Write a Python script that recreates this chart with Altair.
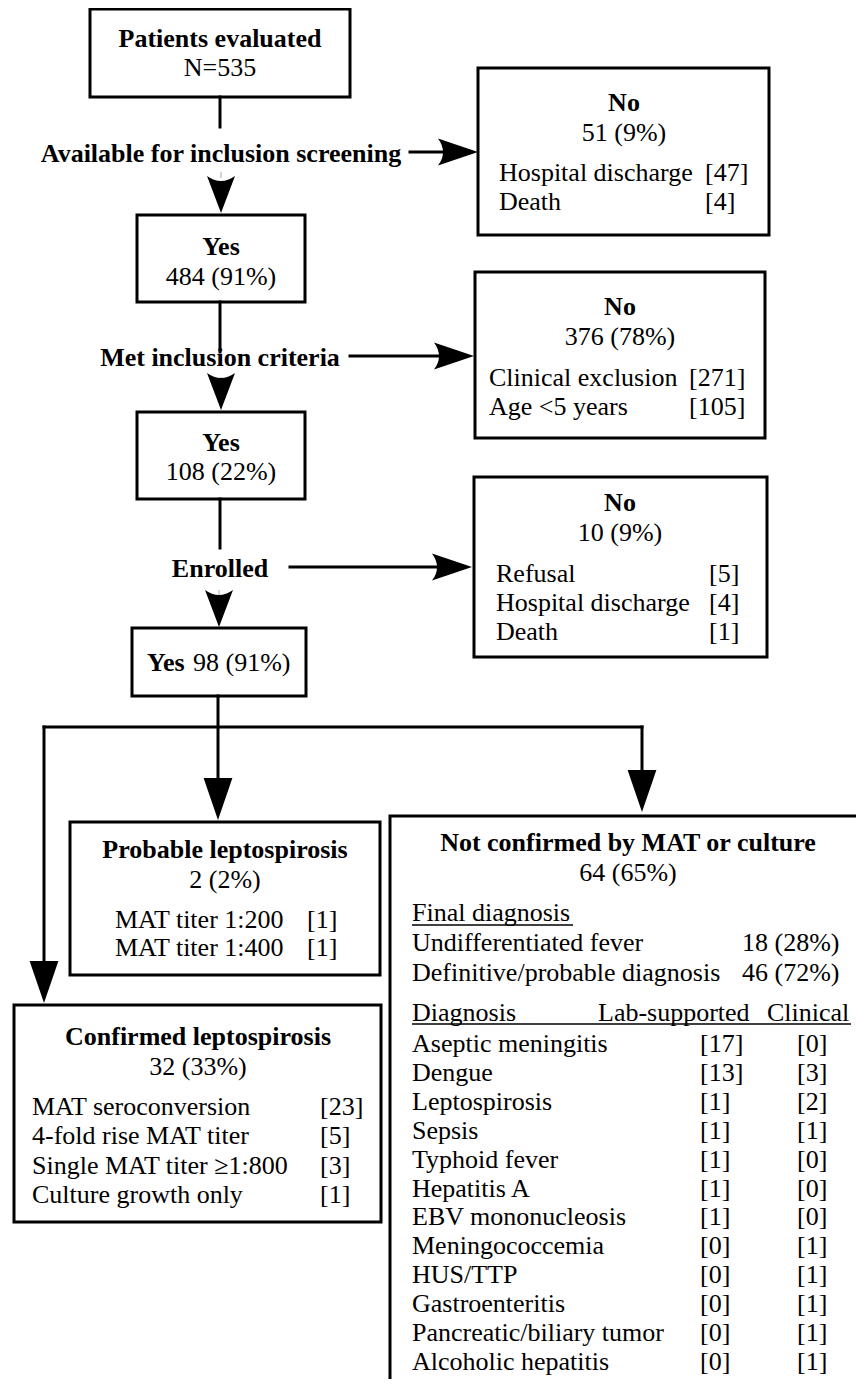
import altair as alt
import pandas as pd

FONT = "Liberation Serif, Times New Roman, Times, DejaVu Serif, serif"
FS = 26

# ---------------- content ----------------
decision_labels = ["Available for inclusion screening", "Met inclusion criteria", "Enrolled"]
box_titles = ["Patients evaluated", "Yes", "No", "Yes", "No", "No",
              "Probable leptospirosis", "Confirmed leptospirosis",
              "Not confirmed by MAT or culture"]
box_counts = ["N=535", "484 (91%)", "51 (9%)", "108 (22%)", "376 (78%)", "10 (9%)",
              "2 (2%)", "32 (33%)", "64 (65%)"]
enrolled_word = "Yes"
enrolled_count = "98 (91%)"

no1_items = ["Hospital discharge", "Death"]
no1_n = [47, 4]
no2_items = ["Clinical exclusion", "Age <5 years"]
no2_n = [271, 105]
no3_items = ["Refusal", "Hospital discharge", "Death"]
no3_n = [5, 4, 1]
probable_items = ["MAT titer 1:200", "MAT titer 1:400"]
probable_n = [1, 1]
confirmed_items = ["MAT seroconversion", "4-fold rise MAT titer",
                   "Single MAT titer \u22651:800", "Culture growth only"]
confirmed_n = [23, 5, 3, 1]
final_header = "Final diagnosis"
final_items = ["Undifferentiated fever", "Definitive/probable diagnosis"]
final_n = ["18 (28%)", "46 (72%)"]
dx_header = ["Diagnosis", "Lab-supported", "Clinical"]
dx_names = ["Aseptic meningitis", "Dengue", "Leptospirosis", "Sepsis", "Typhoid fever",
            "Hepatitis A", "EBV mononucleosis", "Meningococcemia", "HUS/TTP",
            "Gastroenteritis", "Pancreatic/biliary tumor", "Alcoholic hepatitis"]
dx_lab = [17, 13, 1, 1, 1, 1, 1, 0, 0, 0, 0, 0]
dx_clin = [0, 3, 2, 1, 0, 0, 0, 1, 1, 1, 1, 1]

# ---------------- layout (page pixel coordinates) ----------------
box_x1 = [90, 137, 478, 137, 475, 474, 70, 14, 390]
box_x2 = [350, 305, 769, 305, 765, 767, 380, 381, 900]
box_y1 = [9, 215, 68, 412, 272, 477, 822, 1005, 816]
box_y2 = [97, 302, 235, 499, 438, 657, 975, 1222, 1420]
title_x = [220, 221, 624, 221, 620, 620, 225, 198, 628]
title_y = [39, 247, 103, 443, 307, 503, 850, 1037, 843]
count_y = [68, 277, 133, 472, 337, 533, 880, 1067, 873]
dec_x = [221, 220, 220]
dec_y = [154, 358, 569]
g_box = (132, 306, 628, 696)
ROW = 29.3

boxes = pd.DataFrame({"x": box_x1 + [g_box[0]], "x2": box_x2 + [g_box[1]],
                      "y": box_y1 + [g_box[2]], "y2": box_y2 + [g_box[3]]})

bold_c = [(t, x, y) for t, x, y in zip(box_titles, title_x, title_y)]
bold_c += [(t, x, y) for t, x, y in zip(decision_labels, dec_x, dec_y)]
norm_c = [(t, x, y) for t, x, y in zip(box_counts, title_x, count_y)]
bold_l = [(enrolled_word, 147, 663)]
norm_l = [(enrolled_count, 193, 663)]


def listing(items, ns, xl, xr, y0, step=ROW, fmt="[{}]"):
    out = []
    for i, (it, n) in enumerate(zip(items, ns)):
        y = y0 + i * step
        out.append((it, xl, y))
        out.append((fmt.format(n), xr, y))
    return out


norm_l += listing(no1_items, no1_n, 499, 705, 173)
norm_l += listing(no2_items, no2_n, 489, 689, 378)
norm_l += listing(no3_items, no3_n, 496, 709, 573.5)
norm_l += listing(probable_items, probable_n, 115, 307, 920, step=28)
norm_l += listing(confirmed_items, confirmed_n, 32, 320, 1107)
norm_l.append((final_header, 412, 913))
norm_l += listing(final_items, final_n, 412, 742, 943, step=30, fmt="{}")
for t, x in zip(dx_header, [412, 598, 767]):
    norm_l.append((t, x, 1013))
DX_ROW = 28.9
for i, (nm, a, b) in enumerate(zip(dx_names, dx_lab, dx_clin)):
    y = 1044 + i * DX_ROW
    norm_l += [(nm, 412, y), (f"[{a}]", 700, y), (f"[{b}]", 797, y)]


def tdf(rows):
    return pd.DataFrame(rows, columns=["t", "x", "y"])


# connector segments
segs = pd.DataFrame([
    (220, 97, 220, 127), (410, 152, 445, 152),
    (220, 302, 220, 352), (350, 356, 440, 356),
    (220, 499, 220, 548), (290, 567, 438, 567),
    (218, 696, 218, 790), (44, 727, 642, 727),
    (44, 727, 44, 975), (642, 727, 642, 785),
], columns=["x", "y", "x2", "y2"])
stubs = pd.DataFrame([(221, 172, 221, 178), (221, 377, 221, 383), (219, 590, 219, 597)],
                     columns=["x", "y", "x2", "y2"])
unders = pd.DataFrame([(412, 925, 573, 925), (412, 1024, 851, 1024)],
                      columns=["x", "y", "x2", "y2"])

down_notch = pd.DataFrame({"x": [221, 221, 219], "y": [213, 410, 627]})
right_notch = pd.DataFrame({"x": [478, 474, 472], "y": [152, 356, 567]})
down_tri = pd.DataFrame({"x": [218, 44, 642], "y": [820, 1003, 812]})

XS = alt.Scale(domain=[8, 856], nice=False, zero=False)
YS = alt.Scale(domain=[8, 1379], nice=False, zero=False, reverse=True)


def X(f="x"):
    return alt.X(f + ":Q", scale=XS, axis=None)


def Y(f="y"):
    return alt.Y(f + ":Q", scale=YS, axis=None)


rects = alt.Chart(boxes).mark_rect(fill="white", stroke="black", strokeWidth=3,
                                   fillOpacity=1).encode(
    x=X(), x2="x2:Q", y=Y(), y2="y2:Q")
lines = alt.Chart(segs).mark_rule(color="black", strokeWidth=3, strokeCap="square").encode(
    x=X(), x2="x2:Q", y=Y(), y2="y2:Q")
thin = alt.Chart(stubs).mark_rule(color="#aaaaaa", strokeWidth=1).encode(
    x=X(), x2="x2:Q", y=Y(), y2="y2:Q")
ul = alt.Chart(unders).mark_rule(color="black", strokeWidth=1.3).encode(
    x=X(), x2="x2:Q", y=Y(), y2="y2:Q")


def arrows(df, path):
    return alt.Chart(df).mark_point(shape=path, filled=True, size=1600, color="black",
                                    opacity=1, strokeWidth=0).encode(x=X(), y=Y())


a1 = arrows(down_notch, "M0,0L-0.7,-1.85Q0,-1.35 0.7,-1.85Z")
a2 = arrows(right_notch, "M0,0L-2,-0.68Q-1.5,0 -2,0.68Z")
a3 = arrows(down_tri, "M0,0L-0.72,-2.1L0.72,-2.1Z")


def texts(rows, bold, align):
    return alt.Chart(tdf(rows)).mark_text(font=FONT, fontSize=FS, align=align,
                                          baseline="middle", color="black",
                                          fontWeight="bold" if bold else "normal").encode(
        x=X(), y=Y(), text="t:N")


chart = alt.layer(
    rects, lines, thin, a1, a2, a3,
    texts(bold_c, True, "center"), texts(norm_c, False, "center"),
    texts(bold_l, True, "left"), texts(norm_l, False, "left"), ul,
).properties(
    width=848, height=1371, padding=0,
    autosize=alt.AutoSizeParams(type="none"),
).configure_view(stroke=None)

chart.save("out.html", embed_options={"renderer": "svg", "actions": False})
